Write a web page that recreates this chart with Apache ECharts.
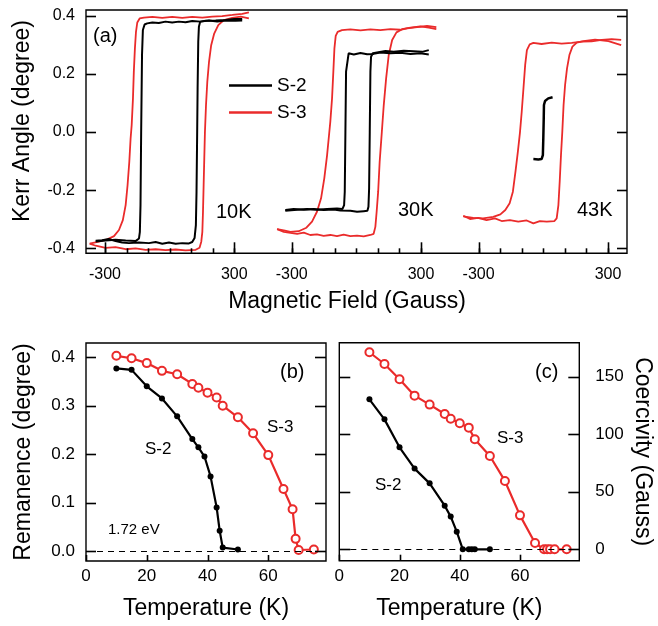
<!DOCTYPE html>
<html>
<head>
<meta charset="utf-8">
<script src="https://cdn.jsdelivr.net/npm/echarts@6/dist/echarts.min.js"></script>
<style>
  html, body { margin: 0; padding: 0; background: #fff; }
  #chart { width: 658px; height: 626px; }
</style>
</head>
<body>
<div id="chart"></div>
<script>
// ---- (a) Kerr hysteresis loops, [field (G), Kerr angle (deg)] ----
// "up" = field sweeping up, "down" = field sweeping down
const s3_10K_up = [[-371,-0.384],[-343,-0.391],[-297,-0.398],[-251,-0.396],[-204,-0.403],[-158,-0.400],[-111,-0.405],[-65,-0.403],[-19,-0.406],[28,-0.404],[74,-0.407],[121,-0.405],[139,-0.398],[147,-0.377],[152,-0.343],[155,-0.274],[158,-0.182],[161,-0.091],[164,0],[169,0.093],[175,0.173],[183,0.242],[193,0.299],[207,0.339],[226,0.368],[252,0.385],[291,0.393],[330,0.397],[368,0.391]];
const s3_10K_down = [[368,0.412],[337,0.407],[291,0.403],[244,0.399],[198,0.397],[152,0.394],[105,0.396],[59,0.393],[12,0.396],[-34,0.393],[-80,0.396],[-119,0.394],[-139,0.391],[-150,0.377],[-156,0.345],[-161,0.288],[-166,0.208],[-170,0.116],[-176,0.024],[-181,-0.022],[-187,-0.102],[-195,-0.182],[-204,-0.251],[-217,-0.303],[-235,-0.337],[-258,-0.358],[-289,-0.369],[-328,-0.377],[-371,-0.384]];
const s2_10K_up = [[-343,-0.374],[-313,-0.372],[-282,-0.368],[-251,-0.375],[-220,-0.380],[-189,-0.382],[-142,-0.380],[-96,-0.382],[-65,-0.378],[-34,-0.384],[-3,-0.380],[28,-0.384],[59,-0.382],[90,-0.383],[105,-0.378],[116,-0.364],[122,-0.320],[125,-0.205],[128,0],[130,0.150],[133,0.311],[136,0.362],[142,0.380],[167,0.383],[214,0.384],[260,0.386],[299,0.389],[337,0.389]];
const s2_10K_down = [[337,0.384],[306,0.383],[260,0.384],[221,0.380],[183,0.384],[144,0.380],[105,0.382],[74,0.378],[43,0.380],[12,0.377],[-19,0.380],[-50,0.375],[-80,0.377],[-104,0.374],[-116,0.370],[-124,0.351],[-128,0.265],[-132,0],[-135,-0.251],[-138,-0.343],[-142,-0.366],[-158,-0.375],[-204,-0.373],[-251,-0.370],[-297,-0.373],[-343,-0.376]];

const s3_30K_up = [[-368,-0.334],[-337,-0.343],[-306,-0.347],[-275,-0.350],[-244,-0.346],[-214,-0.354],[-183,-0.352],[-152,-0.357],[-121,-0.354],[-90,-0.358],[-59,-0.353],[-28,-0.358],[3,-0.356],[34,-0.359],[65,-0.354],[80,-0.350],[88,-0.326],[94,-0.274],[101,-0.205],[108,-0.102],[118,0],[127,0.093],[138,0.185],[150,0.265],[166,0.317],[186,0.343],[212,0.354],[251,0.359],[297,0.364],[336,0.359],[371,0.354]];
const s3_30K_down = [[371,0.361],[328,0.365],[282,0.361],[235,0.357],[204,0.352],[158,0.354],[111,0.351],[65,0.353],[19,0.350],[-28,0.353],[-67,0.351],[-87,0.345],[-96,0.331],[-102,0.288],[-107,0.208],[-113,0.116],[-121,0.036],[-127,-0.010],[-136,-0.079],[-149,-0.159],[-164,-0.228],[-183,-0.274],[-206,-0.308],[-232,-0.329],[-268,-0.341],[-306,-0.343],[-337,-0.338],[-368,-0.334]];
const s2_30K_up = [[-330,-0.268],[-291,-0.265],[-244,-0.267],[-198,-0.265],[-152,-0.268],[-105,-0.266],[-74,-0.270],[-28,-0.271],[3,-0.274],[34,-0.272],[51,-0.271],[56,-0.257],[59,-0.194],[62,0],[65,0.208],[68,0.259],[76,0.271],[96,0.274],[135,0.279],[173,0.276],[220,0.280],[266,0.278],[305,0.276],[336,0.282]];
const s2_30K_down = [[336,0.267],[297,0.271],[251,0.269],[204,0.273],[158,0.271],[111,0.274],[80,0.269],[50,0.268],[19,0.272],[-12,0.267],[-36,0.271],[-45,0.265],[-48,0.208],[-51,0],[-54,-0.205],[-57,-0.251],[-65,-0.265],[-90,-0.263],[-136,-0.265],[-183,-0.267],[-229,-0.265],[-275,-0.267],[-330,-0.271]];

const s3_43K_up = [[-371,-0.288],[-340,-0.299],[-302,-0.295],[-263,-0.303],[-224,-0.297],[-193,-0.306],[-155,-0.303],[-116,-0.308],[-77,-0.304],[-46,-0.314],[-16,-0.306],[16,-0.308],[51,-0.306],[62,-0.297],[70,-0.251],[76,-0.171],[82,-0.079],[88,0],[94,0.093],[101,0.162],[110,0.219],[121,0.265],[135,0.294],[155,0.308],[186,0.313],[240,0.318],[302,0.313],[361,0.299]];
const s3_43K_down = [[361,0.317],[317,0.320],[271,0.317],[224,0.312],[178,0.311],[132,0.307],[85,0.304],[39,0.308],[-8,0.303],[-46,0.307],[-63,0.302],[-76,0.282],[-84,0.231],[-92,0.150],[-100,0.070],[-108,0],[-118,-0.068],[-129,-0.136],[-141,-0.205],[-156,-0.245],[-176,-0.268],[-199,-0.283],[-232,-0.292],[-279,-0.297],[-325,-0.295],[-371,-0.290]];
const s2_43K = [[-46,-0.093],[-23,-0.094],[-8,-0.093],[-2,-0.079],[0,-0.022],[2,0.047],[3,0.093],[8,0.107],[23,0.116],[43,0.120]];

const fieldTicks = [-300, -200, -100, 0, 100, 200, 300];
const fieldLabels = [-300, 300];
const kerrTicks = [-0.4, -0.2, 0, 0.2, 0.4];

// ---- (b) remanence vs temperature ----
const tempS2 = [10, 15, 20, 25, 30, 35, 37, 39, 41, 43, 44, 45, 50];
const remS2 = [0.377, 0.374, 0.340, 0.315, 0.278, 0.231, 0.214, 0.195, 0.154, 0.090, 0.042, 0.007, 0.003];
const tempS3 = [10, 15, 20, 25, 30, 35, 37, 40, 43, 45, 50, 55, 60, 65, 68, 69, 70, 75];
const remS3 = [0.403, 0.398, 0.388, 0.372, 0.365, 0.345, 0.337, 0.327, 0.317, 0.300, 0.276, 0.243, 0.198, 0.128, 0.086, 0.025, 0.002, 0.003];
const remTicks = [0, 0.1, 0.2, 0.3, 0.4];
const tempTicks = [0, 20, 40, 60];

// ---- (c) coercivity vs temperature ----
const coerS2 = [130.3, 112.9, 88.6, 70.1, 57.3, 37.9, 28.4, 15.3, 0, 0, 0, 0, 0];
const tempS3c = [10, 15, 20, 25, 30, 35, 37, 40, 43, 45, 50, 55, 60, 65, 68, 69, 70, 71.5, 75.5];
const coerS3 = [171.2, 161.0, 147.7, 133.5, 125.7, 117.6, 113.5, 109.5, 105.7, 95.6, 81.1, 59.4, 29.5, 5.5, 0, 0, 0, 0, 0];
const coerTicks = [0, 50, 100, 150];

const RED = '#ea2b2b';
const FONT = '"Liberation Sans", Arial, Helvetica, sans-serif';

const zip = (xs, ys) => xs.map((x, i) => [x, ys[i]]);

const chart = echarts.init(document.getElementById('chart'));

// top panel: three side by side grids sharing one frame
const topGrids = [
  { left: 86, top: 10, width: 186.8, height: 243.3 },
  { left: 272.8, top: 10, width: 186.8, height: 243.3 },
  { left: 459.6, top: 10, width: 167.4, height: 243.3 }
];
const gridB = { left: 86, top: 343, width: 240, height: 218 };
const gridC = { left: 339.3, top: 342.7, width: 240, height: 218 };
const fieldRanges = [[-388, 479], [-388, 479], [-388, 388]];
const kerrRange = [-0.417, 0.42];
const tempRangeB = [0, 79];
const tempRangeC = [0, 79.7];
const remRange = [-0.0207, 0.4295];
const coerRange = [-9.9, 179.5];

const labelStyle = (size, extra) => Object.assign({ color: '#000', fontSize: size, fontFamily: FONT }, extra);
const bare = { axisLine: { show: false, onZero: false }, axisTick: { show: false }, splitLine: { show: false } };

const xAxes = [];
topGrids.forEach((g, i) => {
  xAxes.push(Object.assign({
    type: 'value', gridIndex: i, min: fieldRanges[i][0], max: fieldRanges[i][1],
    axisLabel: labelStyle(16, { customValues: fieldLabels, margin: 13 })
  }, bare));
});
[[3, tempRangeB], [4, tempRangeC]].forEach(([gi, r]) => {
  xAxes.push(Object.assign({
    type: 'value', gridIndex: gi, min: r[0], max: r[1],
    axisLabel: labelStyle(17, { customValues: tempTicks, margin: 7 }),
    name: 'Temperature (K)', nameLocation: 'middle', nameGap: 36,
    nameTextStyle: labelStyle(23)
  }, bare));
});

const kerrAxis = (i, extra) => Object.assign({
  type: 'value', gridIndex: i, min: kerrRange[0], max: kerrRange[1],
  axisLabel: labelStyle(16, { customValues: kerrTicks, margin: 11, formatter: v => v.toFixed(1) })
}, bare, extra);

const yAxes = [
  kerrAxis(0),
  kerrAxis(1, { show: false }),
  kerrAxis(2, { show: false }),
  // (b)
  Object.assign({
    type: 'value', gridIndex: 3, min: remRange[0], max: remRange[1],
    axisLabel: labelStyle(17, { customValues: remTicks, margin: 11, formatter: v => v.toFixed(1) }),
    name: 'Remanence (degree)', nameLocation: 'middle', nameGap: 51,
    nameTextStyle: labelStyle(23)
  }, bare),
  // (c), labelled on the right
  Object.assign({
    type: 'value', gridIndex: 4, min: coerRange[0], max: coerRange[1], position: 'right',
    axisLabel: labelStyle(17, { customValues: coerTicks, margin: 16 }),
    name: 'Coercivity (Gauss)', nameLocation: 'middle', nameGap: 52, nameRotate: -90,
    nameTextStyle: labelStyle(23)
  }, bare)
];

const loop = (name, data, gi, color, width) => ({
  name: name, type: 'line', data: data, xAxisIndex: gi, yAxisIndex: gi,
  symbol: 'none', color: color, lineStyle: { color: color, width: width }, z: name === 'S-2' ? 3 : 2
});

const zeroLine = {
  silent: true, symbol: 'none', label: { show: false },
  lineStyle: { color: '#000', type: [6, 5], width: 1.2 },
  data: [{ yAxis: 0 }]
};

const series = [
  loop('S-2', s2_10K_up, 0, '#000', 2),
  loop('S-3', s3_10K_up, 0, RED, 1.8),
  loop('S-3', s3_10K_down, 0, RED, 1.8),
  loop('S-2', s2_10K_down, 0, '#000', 2),
  loop('S-3', s3_30K_up, 1, RED, 1.8),
  loop('S-3', s3_30K_down, 1, RED, 1.8),
  loop('S-2', s2_30K_up, 1, '#000', 2),
  loop('S-2', s2_30K_down, 1, '#000', 2),
  loop('S-3', s3_43K_up, 2, RED, 1.8),
  loop('S-3', s3_43K_down, 2, RED, 1.8),
  loop('S-2', s2_43K, 2, '#000', 2.5),
  // (b)
  {
    name: 'S-2', type: 'line', xAxisIndex: 3, yAxisIndex: 3, data: zip(tempS2, remS2),
    symbol: 'circle', symbolSize: 6, color: '#000',
    itemStyle: { color: '#000' }, lineStyle: { color: '#000', width: 2.2 }, z: 3,
    markLine: zeroLine
  },
  {
    name: 'S-3', type: 'line', xAxisIndex: 3, yAxisIndex: 3, data: zip(tempS3, remS3),
    symbol: 'circle', symbolSize: 8, color: RED,
    itemStyle: { color: '#fff', borderColor: RED, borderWidth: 2 }, lineStyle: { color: RED, width: 2.2 }, z: 4
  },
  // (c)
  {
    name: 'S-2', type: 'line', xAxisIndex: 4, yAxisIndex: 4, data: zip(tempS2, coerS2),
    symbol: 'circle', symbolSize: 6, color: '#000',
    itemStyle: { color: '#000' }, lineStyle: { color: '#000', width: 2.2 }, z: 3,
    markLine: zeroLine
  },
  {
    name: 'S-3', type: 'line', xAxisIndex: 4, yAxisIndex: 4, data: zip(tempS3c, coerS3),
    symbol: 'circle', symbolSize: 8, color: RED,
    itemStyle: { color: '#fff', borderColor: RED, borderWidth: 2 }, lineStyle: { color: RED, width: 2.2 }, z: 4
  }
];

// ---- frames and inward tick marks, drawn as one polyline "comb" per edge ----
const toPx = (v, lo, hi, start, span) => start + (v - lo) / (hi - lo) * span;
const comb = [];
const edgeTicks = (points) => comb.push({
  type: 'polyline', z: 20, silent: true,
  shape: { points: points },
  style: { stroke: '#000', lineWidth: 1.6, fill: null }
});
// bottom edge: go along the edge and poke up at each tick
const bottomTicks = (g, r, specs) => specs.forEach(([vals, len]) => vals.forEach(v => {
  const x = Math.round(toPx(v, r[0], r[1], g.left, g.width)) + 0.5;
  const y = g.top + g.height;
  edgeTicks([[x, y], [x, y - len]]);
}));
const sideTicks = (g, r, vals, len, side) => vals.forEach(v => {
  const y = Math.round(toPx(v, r[0], r[1], g.top + g.height, -g.height)) + 0.5;
  const x = side === 'left' ? g.left : g.left + g.width;
  edgeTicks([[x, y], [side === 'left' ? x + len : x - len, y]]);
});
topGrids.forEach((g, i) => bottomTicks(g, fieldRanges[i], [[fieldTicks, 5], [fieldLabels, 11]]));
sideTicks(topGrids[0], kerrRange, kerrTicks, 10, 'left');
sideTicks(topGrids[2], kerrRange, kerrTicks, 10, 'right');
bottomTicks(gridB, tempRangeB, [[tempTicks, 6]]);
sideTicks(gridB, remRange, remTicks, 10, 'left');
sideTicks(gridB, remRange, remTicks, 11, 'right');
bottomTicks(gridC, tempRangeC, [[tempTicks, 6]]);
sideTicks(gridC, coerRange, coerTicks, 11, 'left');
sideTicks(gridC, coerRange, coerTicks, 11, 'right');

const txt = (text, x, y, size, extra) => Object.assign({
  type: 'text', x: x, y: y, z: 10,
  style: { text: text, font: size + 'px ' + FONT, fill: '#000', align: 'left', verticalAlign: 'middle' }
}, extra);
const centred = (text, size) => ({ text: text, font: size + 'px ' + FONT, fill: '#000', align: 'center', verticalAlign: 'middle' });
const frame = g => ({
  type: 'rect', z: 5, silent: true,
  shape: { x: g.left, y: g.top, width: g.width, height: g.height },
  style: { fill: null, stroke: '#000', lineWidth: 1.4 }
});

chart.setOption({
  animation: false,
  backgroundColor: '#fff',
  grid: topGrids.concat([gridB, gridC]),
  xAxis: xAxes,
  yAxis: yAxes,
  legend: {
    data: ['S-2', 'S-3'], orient: 'vertical', left: 224, top: 71,
    icon: 'rect', itemWidth: 43, itemHeight: 2.5, itemGap: 8, selectedMode: false,
    textStyle: labelStyle(19)
  },
  series: series,
  graphic: {
    elements: [
      frame({ left: 86, top: 10, width: 541, height: 243.3 }),
      frame(gridB),
      frame(gridC),
      txt('', 23, 121, 23, { rotation: Math.PI / 2, style: centred('Kerr Angle (degree)', 23) }),
      txt('', 347, 302, 23, { style: centred('Magnetic Field (Gauss)', 23) }),
      txt('(a)', 93, 36, 20),
      txt('10K', 216, 212, 20),
      txt('30K', 398, 210, 20),
      txt('43K', 577, 210, 20),
      txt('(b)', 280, 372, 20),
      txt('(c)', 535, 372, 20),
      txt('S-3', 267, 427, 17),
      txt('S-2', 145, 449, 17),
      txt('1.72 eV', 108, 530, 15),
      txt('S-3', 497, 438, 17),
      txt('S-2', 375, 485, 17)
    ].concat(comb)
  }
});
</script>
</body>
</html>
